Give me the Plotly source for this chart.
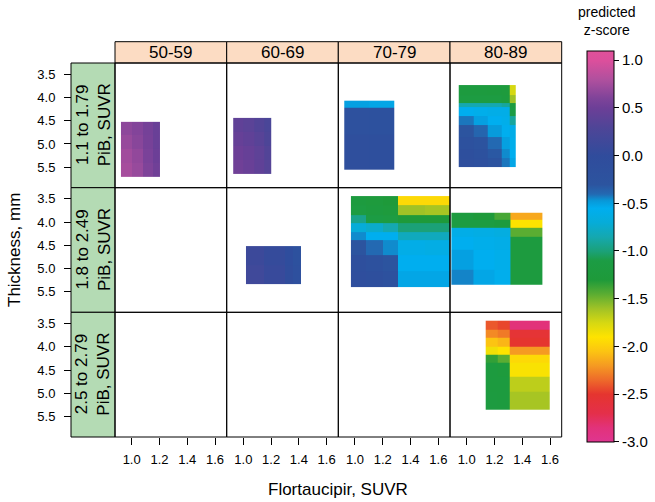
import plotly.graph_objects as go

# ---------------- data ----------------
age_groups = ["50-59", "60-69", "70-79", "80-89"]
pib_groups = ["1.1 to 1.79", "1.8 to 2.49", "2.5 to 2.79"]
x_ticks = [1.0, 1.2, 1.4, 1.6]
y_ticks = [3.5, 4.0, 4.5, 5.0, 5.5]
cbar_ticks = [-3.0, -2.5, -2.0, -1.5, -1.0, -0.5, 0.0, 0.5, 1.0]

# PiB 1.1-1.79, age 50-59
p1_50_x = [0.923, 1.0, 1.08, 1.15, 1.204]
p1_50_y = [4.525, 4.8, 5.1, 5.4, 5.71]
p1_50_z = [[0.66, 0.62, 0.55, 0.48],
           [0.70, 0.64, 0.56, 0.48],
           [0.74, 0.68, 0.58, 0.50],
           [0.76, 0.70, 0.60, 0.52]]
# PiB 1.1-1.79, age 60-69
p1_60_x = [0.927, 1.0, 1.08, 1.15, 1.204]
p1_60_y = [4.44, 4.75, 5.05, 5.35, 5.637]
p1_60_z = [[0.42, 0.38, 0.32, 0.25],
           [0.46, 0.42, 0.36, 0.28],
           [0.50, 0.46, 0.40, 0.32],
           [0.52, 0.48, 0.42, 0.35]]
# PiB 1.1-1.79, age 70-79
p1_70_x = [0.923, 1.1, 1.283]
p1_70_y = [4.07, 4.22, 4.8, 5.55]
p1_70_z = [[-0.50, -0.52],
           [-0.18, -0.20],
           [-0.10, -0.12]]
# PiB 1.1-1.79, age 80-89
p1_80_x = [0.943, 1.05, 1.15, 1.25, 1.312, 1.35]
p1_80_y = [3.734, 3.95, 4.12, 4.2, 4.4, 4.6, 4.85, 5.1, 5.3, 5.495]
p1_80_z = [[-1.20, -1.20, -1.22, -1.25, -1.75],
           [-1.15, -1.15, -1.15, -1.20, -1.60],
           [-0.85, -0.85, -0.85, -0.90, -1.20],
           [-0.55, -0.58, -0.60, -0.60, -1.10],
           [-0.42, -0.50, -0.55, -0.58, -0.90],
           [-0.30, -0.38, -0.48, -0.55, -0.60],
           [-0.20, -0.28, -0.40, -0.50, -0.58],
           [-0.12, -0.20, -0.32, -0.45, -0.55],
           [-0.10, -0.15, -0.28, -0.42, -0.52]]
# PiB 1.8-2.49, age 60-69
p2_60_x = [1.019, 1.15, 1.3, 1.36, 1.412]
p2_60_y = [4.516, 4.93, 5.342]
p2_60_z = [[0.12, 0.05, -0.05, -0.20],
           [0.15, 0.08, -0.02, -0.15]]
# PiB 1.8-2.49, age 70-79
p2_70_x = [0.971, 1.08, 1.2, 1.307, 1.5, 1.684]
p2_70_y = [3.44, 3.633, 3.848, 4.02, 4.208, 4.387, 4.71, 5.05, 5.406]
p2_70_z = [[-1.20, -1.25, -1.30, -1.95, -1.95],
           [-1.15, -1.20, -1.25, -1.60, -1.62],
           [-0.95, -1.10, -1.15, -1.30, -1.30],
           [-0.70, -0.75, -0.85, -1.00, -1.00],
           [-0.45, -0.55, -0.55, -0.80, -0.80],
           [-0.30, -0.40, -0.45, -0.60, -0.62],
           [-0.12, -0.20, -0.30, -0.55, -0.55],
           [-0.08, -0.12, -0.20, -0.52, -0.52]]
# PiB 1.8-2.49, age 80-89
p2_80_x = [0.89, 1.05, 1.2, 1.312, 1.45, 1.547]
p2_80_y = [3.799, 3.956, 4.129, 4.316, 4.603, 5.034, 5.346]
p2_80_z = [[-1.20, -1.30, -1.40, -2.15, -2.15],
           [-1.15, -1.15, -1.20, -1.90, -1.90],
           [-0.60, -0.62, -0.65, -1.45, -1.45],
           [-0.55, -0.58, -0.60, -1.20, -1.20],
           [-0.50, -0.55, -0.58, -1.20, -1.20],
           [-0.44, -0.52, -0.57, -1.20, -1.20]]
# PiB 2.5-2.79, age 80-89
p3_80_x = [1.137, 1.22, 1.312, 1.45, 1.599]
p3_80_y = [3.441, 3.641, 3.814, 4.001, 4.18, 4.352, 4.647, 4.977, 5.344]
p3_80_z = [[-2.40, -2.45, -2.85, -2.85],
           [-2.25, -2.30, -2.55, -2.55],
           [-2.05, -2.10, -2.50, -2.50],
           [-1.85, -1.90, -2.20, -2.20],
           [-1.35, -1.45, -1.95, -1.95],
           [-1.20, -1.25, -1.88, -1.88],
           [-1.20, -1.20, -1.68, -1.68],
           [-1.18, -1.20, -1.62, -1.62]]

panels = {
    (0, 0): (p1_50_x, p1_50_y, p1_50_z),
    (0, 1): (p1_60_x, p1_60_y, p1_60_z),
    (0, 2): (p1_70_x, p1_70_y, p1_70_z),
    (0, 3): (p1_80_x, p1_80_y, p1_80_z),
    (1, 1): (p2_60_x, p2_60_y, p2_60_z),
    (1, 2): (p2_70_x, p2_70_y, p2_70_z),
    (1, 3): (p2_80_x, p2_80_y, p2_80_z),
    (2, 3): (p3_80_x, p3_80_y, p3_80_z),
}

# ---------------- styling ----------------
W, H = 655, 502
FONT = "Liberation Sans, Arial, Helvetica, sans-serif"
ZMIN, ZMAX = -3.0, 1.1
XR = [0.88, 1.684]
YR = [5.94, 3.26]
col_px = [115, 226.7, 338.3, 450, 561.7]
row_px = [63, 187.7, 312.3, 437]
strip_top_px = 41.7
lstrip_left_px = 71

stops = [
    (-3.0, "#DF3590"), (-2.85, "#E2327A"), (-2.7, "#E42F4A"), (-2.5, "#E5352F"),
    (-2.35, "#EE6A2A"), (-2.2, "#F59A22"), (-2.05, "#FCC412"), (-1.9, "#FEE300"),
    (-1.75, "#D6D812"), (-1.6, "#A0C226"), (-1.45, "#5BAD32"), (-1.3, "#1E9A3A"),
    (-1.1, "#1C9C44"), (-1.0, "#1BA178"), (-0.85, "#15A8B0"), (-0.7, "#06ACD8"),
    (-0.55, "#00AEEF"), (-0.47, "#0898D8"), (-0.4, "#2369B2"), (-0.3, "#2C549F"),
    (0.0, "#304C9C"), (0.3, "#4F4597"), (0.5, "#6C3F97"), (0.6, "#7E4399"),
    (0.8, "#B0509E"), (1.0, "#DC4F9C"), (1.1, "#E0519A"),
]
colorscale = [[(z - ZMIN) / (ZMAX - ZMIN), c] for z, c in stops]


def px_x(p):
    return p / W


def px_y(p):
    return 1 - p / H


fig = go.Figure()
layout = {}
shapes = []
annotations = []

for r in range(3):
    for c in range(4):
        k = r * 4 + c + 1
        xa = "xaxis" if k == 1 else f"xaxis{k}"
        ya = "yaxis" if k == 1 else f"yaxis{k}"
        xref = "x" if k == 1 else f"x{k}"
        yref = "y" if k == 1 else f"y{k}"
        bottom = (r == 2)
        left = (c == 0)
        layout[xa] = dict(
            domain=[px_x(col_px[c]), px_x(col_px[c + 1])],
            range=XR, anchor=yref, showgrid=False, zeroline=False, showline=False,
            tickvals=x_ticks if bottom else [],
            ticktext=[f"{v:.1f}" for v in x_ticks] if bottom else [],
            ticks="outside" if bottom else "", ticklen=7, tickcolor="black",
            showticklabels=bottom, tickfont=dict(family=FONT, size=13, color="black"),
            ticklabelstandoff=3,
        )
        ydict = dict(
            domain=[px_y(row_px[r + 1]), px_y(row_px[r])],
            range=YR, showgrid=False, zeroline=False, showline=False,
            tickvals=y_ticks if left else [],
            ticktext=[f"{v:.1f}" for v in y_ticks] if left else [],
            ticks="outside" if left else "", ticklen=7, tickcolor="black",
            showticklabels=left, tickfont=dict(family=FONT, size=13, color="black"),
        )
        if left:
            ydict.update(anchor="free", position=px_x(lstrip_left_px), ticklabelstandoff=6)
        else:
            ydict.update(anchor=xref)
        layout[ya] = ydict

        # empty trace so that every panel gets its own subplot and axes
        fig.add_trace(go.Scatter(x=[None], y=[None], xaxis=xref, yaxis=yref,
                                 mode="markers", showlegend=False, hoverinfo="skip"))
        if (r, c) in panels:
            xe, ye, z = panels[(r, c)]
            fig.add_trace(go.Heatmap(
                x=xe, y=ye, z=z, coloraxis="coloraxis", zsmooth=False,
                xaxis=xref, yaxis=yref, hoverinfo="skip",
            ))

        # panel border
        shapes.append(dict(type="rect", xref="paper", yref="paper",
                           x0=px_x(col_px[c]), x1=px_x(col_px[c + 1]),
                           y0=px_y(row_px[r + 1]), y1=px_y(row_px[r]),
                           line=dict(color="black", width=1), layer="above"))

# top strips
for c, lab in enumerate(age_groups):
    shapes.append(dict(type="rect", xref="paper", yref="paper",
                       x0=px_x(col_px[c]), x1=px_x(col_px[c + 1]),
                       y0=px_y(row_px[0]), y1=px_y(strip_top_px),
                       fillcolor="#FCDCC3", line=dict(color="black", width=1), layer="below"))
    annotations.append(dict(xref="paper", yref="paper",
                            x=px_x((col_px[c] + col_px[c + 1]) / 2),
                            y=px_y((row_px[0] + strip_top_px) / 2),
                            text=lab, showarrow=False, xanchor="center", yanchor="middle",
                            font=dict(family=FONT, size=17, color="black")))

# left strips
for r, lab in enumerate(pib_groups):
    shapes.append(dict(type="rect", xref="paper", yref="paper",
                       x0=px_x(lstrip_left_px), x1=px_x(col_px[0]),
                       y0=px_y(row_px[r + 1]), y1=px_y(row_px[r]),
                       fillcolor="#B4DBB4", line=dict(color="black", width=1), layer="below"))
    annotations.append(dict(xref="paper", yref="paper",
                            x=px_x((lstrip_left_px + col_px[0]) / 2),
                            y=px_y((row_px[r] + row_px[r + 1]) / 2),
                            text=f"{lab}<br>PiB, SUVR", showarrow=False, textangle=-90,
                            xanchor="center", yanchor="middle",
                            font=dict(family=FONT, size=17, color="black")))

# axis titles
annotations.append(dict(xref="paper", yref="paper", x=px_x((col_px[0] + col_px[-1]) / 2),
                        y=px_y(489), text="Flortaucipir, SUVR", showarrow=False,
                        xanchor="center", yanchor="middle",
                        font=dict(family=FONT, size=17, color="black")))
annotations.append(dict(xref="paper", yref="paper", x=px_x(14),
                        y=px_y((row_px[0] + row_px[-1]) / 2), text="Thickness, mm",
                        showarrow=False, textangle=-90, xanchor="center", yanchor="middle",
                        font=dict(family=FONT, size=17, color="black")))
# colorbar title
annotations.append(dict(xref="paper", yref="paper", x=px_x(607), y=px_y(21),
                        text="predicted<br>z-score", showarrow=False,
                        xanchor="center", yanchor="middle",
                        font=dict(family=FONT, size=14, color="black")))

fig.update_layout(
    width=W, height=H,
    margin=dict(l=0, r=0, t=0, b=0, autoexpand=False),
    paper_bgcolor="white", plot_bgcolor="white",
    showlegend=False,
    font=dict(family=FONT, color="black"),
    coloraxis=dict(
        colorscale=colorscale, cmin=ZMIN, cmax=ZMAX,
        colorbar=dict(
            x=px_x(587), xanchor="left", xpad=0,
            y=px_y(50.7), yanchor="top", ypad=0,
            len=391, lenmode="pixels",
            thickness=27, thicknessmode="pixels",
            outlinecolor="black", outlinewidth=1,
            ticks="outside", ticklen=5, tickcolor="black",
            tickvals=cbar_ticks, ticktext=[f"{v:.1f}" for v in cbar_ticks],
            tickfont=dict(family=FONT, size=15, color="black"),
        ),
    ),
    shapes=shapes,
    annotations=annotations,
    **layout,
)

fig.write_html(
    "out.html",
    config={"displayModeBar": False},
    post_script="document.body.style.margin='0px';document.body.style.overflow='hidden';",
)
